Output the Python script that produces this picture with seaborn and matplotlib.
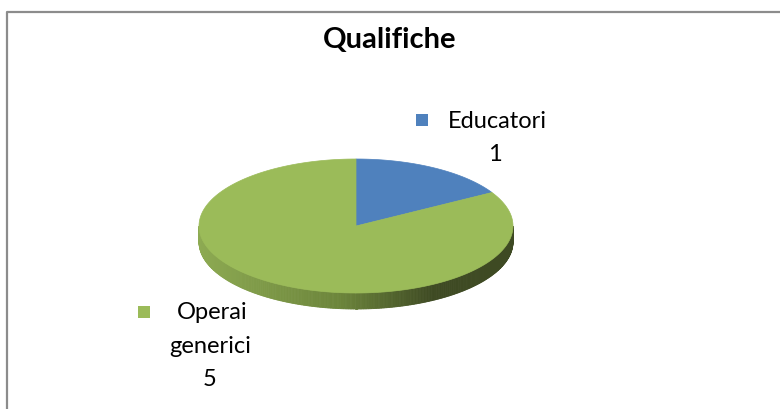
import numpy as np
import seaborn as sns
import matplotlib.pyplot as plt
from matplotlib.colors import LinearSegmentedColormap

categories = ["Educatori", "Operai generici"]
values = [1, 5]
title = "Qualifiche"

sns.set_theme(style="white")
plt.rcParams['font.family'] = ['Lato', 'DejaVu Sans']
colors = ["#4F81BD", "#9BBB59"]

fig = plt.figure(figsize=(7.8, 4.1), dpi=100)
ax = fig.add_axes([0, 0, 1, 1])
ax.set_xlim(0, 780)
ax.set_ylim(410, 0)
ax.axis("off")

# chart frame (runs off the right and bottom like the original)
ax.plot([6.5, 6.5, 790], [420, 12.5, 12.5], color="#8c8c8c", lw=1.6, solid_capstyle="butt")

cx, cy, a, b, depth = 356, 227, 157, 67, 16

# side of the disk (front half), shaded left -> right
side_cmap = LinearSegmentedColormap.from_list(
    "side", [(0, "#8DAA52"), (0.45, "#6C853B"), (0.75, "#3E4A23"), (1, "#3E4A23")])
th = np.linspace(np.pi, 2 * np.pi, 300)
for t0, t1 in zip(th[:-1], th[1:]):
    xs = [cx + a * np.cos(t0), cx + a * np.cos(t1), cx + a * np.cos(t1), cx + a * np.cos(t0)]
    ys = [cy - b * np.sin(t0), cy - b * np.sin(t1), cy - b * np.sin(t1) + depth, cy - b * np.sin(t0) + depth]
    c = side_cmap((np.mean(xs[:2]) - (cx - a)) / (2 * a))
    ax.fill(xs, ys, color=c, lw=0.6, ec=c)

# top face wedges, starting at 12 o'clock going clockwise
start = 90.0
total = sum(values)
for v, col in zip(values, colors):
    span = 360.0 * v / total
    ang = np.radians(np.linspace(start, start - span, 200))
    xs = np.concatenate([[cx], cx + a * np.cos(ang)])
    ys = np.concatenate([[cy], cy - b * np.sin(ang)])
    ax.fill(xs, ys, color=col, lw=0.5, ec=col)
    start -= span

ax.text(390, 40, title, ha="center", va="center", fontsize=21, fontweight="bold", color="black")

# data labels with legend keys
fs = 17
ax.scatter([422], [121], marker="s", s=85, color=colors[0], lw=0)
ax.text(497, 121, "Educatori", ha="center", va="center", fontsize=fs, color="black")
ax.text(495, 155, str(values[0]), ha="center", va="center", fontsize=fs, color="black")

ax.scatter([144], [313], marker="s", s=85, color=colors[1], lw=0)
ax.text(212, 313, "Operai", ha="center", va="center", fontsize=fs, color="black")
ax.text(210, 347, "generici", ha="center", va="center", fontsize=fs, color="black")
ax.text(210, 380, str(values[1]), ha="center", va="center", fontsize=fs, color="black")

fig.savefig("out.png", dpi=100)
